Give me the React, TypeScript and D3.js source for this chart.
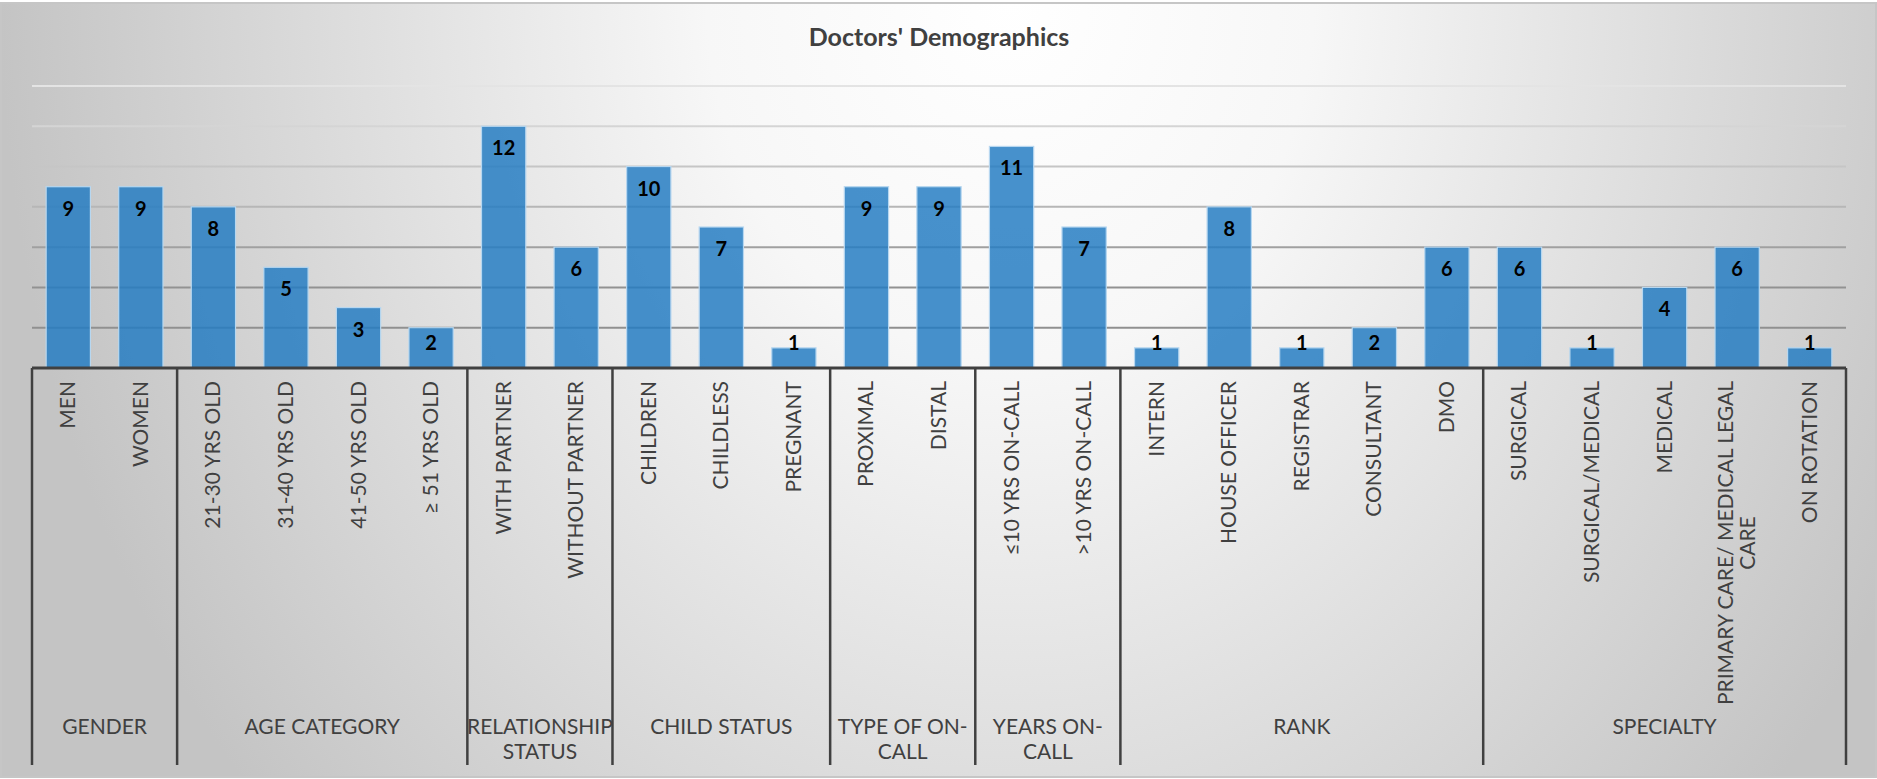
import React, { useRef, useEffect } from "react";
import * as d3 from "d3";

const categories = [
  "MEN", "WOMEN",
  "21-30 YRS OLD", "31-40 YRS OLD", "41-50 YRS OLD", "≥ 51  YRS OLD",
  "WITH PARTNER", "WITHOUT PARTNER",
  "CHILDREN", "CHILDLESS", "PREGNANT",
  "PROXIMAL", "DISTAL",
  "≤10 YRS ON-CALL", ">10 YRS ON-CALL",
  "INTERN", "HOUSE OFFICER", "REGISTRAR", "CONSULTANT", "DMO",
  "SURGICAL", "SURGICAL/MEDICAL", "MEDICAL", "PRIMARY CARE/ MEDICAL LEGAL CARE", "ON ROTATION",
];
const values = [9, 9, 8, 5, 3, 2, 12, 6, 10, 7, 1, 9, 9, 11, 7, 1, 8, 1, 2, 6, 6, 1, 4, 6, 1];
const groupSizes = [2, 4, 2, 3, 2, 2, 5, 5];
const groupLines = [
  ["GENDER"],
  ["AGE CATEGORY"],
  ["RELATIONSHIP", "STATUS"],
  ["CHILD STATUS"],
  ["TYPE OF ON-", "CALL"],
  ["YEARS ON-", "CALL"],
  ["RANK"],
  ["SPECIALTY"],
];
const yTicks = [2, 4, 6, 8, 10, 12, 14];
const title = "Doctors' Demographics";

const W = 1877;
const H = 779;
const FONT = "Lato, 'Open Sans', sans-serif";

function App() {
  const svgRef = useRef<any>();

  useEffect(() => {
    const svg = d3.select(svgRef.current);
    svg.selectAll("*").remove();

    const defs = svg.append("defs");
    const bg = defs
      .append("radialGradient")
      .attr("id", "bg")
      .attr("gradientUnits", "userSpaceOnUse")
      .attr("cx", 0)
      .attr("cy", 0)
      .attr("r", 1)
      .attr("gradientTransform", "translate(1010,0) scale(1010,1200)");
    bg.append("stop").attr("offset", 0).attr("stop-color", "#ffffff");
    bg.append("stop").attr("offset", 0.3).attr("stop-color", "#f7f7f7");
    bg.append("stop").attr("offset", 1).attr("stop-color", "#c4c4c4");

    const x = d3
      .scaleBand()
      .domain(categories)
      .range([32, 1846])
      .paddingInner(0.39)
      .paddingOuter(0.195);
    const y = d3.scaleLinear().domain([0, 14]).range([368, 86]);

    const grid = defs
      .append("linearGradient")
      .attr("id", "grid")
      .attr("gradientUnits", "userSpaceOnUse")
      .attr("x1", 0)
      .attr("x2", 0)
      .attr("y1", y(14))
      .attr("y2", y(0));
    grid.append("stop").attr("offset", 0).attr("stop-color", "#e4e4e4");
    grid.append("stop").attr("offset", 0.45).attr("stop-color", "#b4b4b4");
    grid.append("stop").attr("offset", 0.65).attr("stop-color", "#939393");
    grid.append("stop").attr("offset", 1).attr("stop-color", "#8e8e8e");

    svg
      .append("rect")
      .attr("x", 1)
      .attr("y", 3)
      .attr("width", W - 2)
      .attr("height", H - 5)
      .attr("fill", "url(#bg)")
      .attr("stroke", "#c6c6c6")
      .attr("stroke-width", 2);

    svg
      .append("text")
      .attr("x", 939)
      .attr("y", 46)
      .attr("text-anchor", "middle")
      .attr("font-family", FONT)
      .attr("font-weight", "bold")
      .attr("font-size", 25)
      .attr("fill", "#404040")
      .text(title);

    const [x0, x1] = x.range();

    svg
      .append("g")
      .selectAll("line")
      .data(yTicks)
      .join("line")
      .attr("x1", x0)
      .attr("x2", x1)
      .attr("y1", (d) => y(d))
      .attr("y2", (d) => y(d) + 0.01)
      .attr("stroke", "url(#grid)")
      .attr("stroke-width", 2);

    svg
      .append("g")
      .selectAll("rect")
      .data(values)
      .join("rect")
      .attr("x", (d, i) => x(categories[i])!)
      .attr("y", (d) => y(d))
      .attr("width", x.bandwidth())
      .attr("height", (d) => y(0) - y(d))
      .attr("fill", "rgba(36,124,194,0.84)")
      .attr("stroke", "#b7d7f0")
      .attr("stroke-width", 1.2);

    svg
      .append("g")
      .selectAll("text")
      .data(values)
      .join("text")
      .attr("x", (d, i) => x(categories[i])! + x.bandwidth() / 2)
      .attr("y", (d) => Math.min(y(d) + 29, y(0) - 18))
      .attr("text-anchor", "middle")
      .attr("font-family", FONT)
      .attr("font-weight", "bold")
      .attr("font-size", 20)
      .attr("fill", "#000")
      .text((d) => d);

    // category axis
    const axisColor = "#404040";
    svg
      .append("line")
      .attr("x1", x0)
      .attr("x2", x1)
      .attr("y1", y(0))
      .attr("y2", y(0))
      .attr("stroke", axisColor)
      .attr("stroke-width", 3);

    const step = x.step();
    const bounds = [0];
    groupSizes.forEach((n) => bounds.push(bounds[bounds.length - 1] + n));

    svg
      .append("g")
      .selectAll("line")
      .data(bounds)
      .join("line")
      .attr("x1", (b) => x0 + b * step)
      .attr("x2", (b) => x0 + b * step)
      .attr("y1", y(0))
      .attr("y2", 765)
      .attr("stroke", axisColor)
      .attr("stroke-width", 2.5);

    const labels = svg
      .append("g")
      .attr("font-family", FONT)
      .attr("font-size", 21)
      .attr("fill", "#404040");

    categories.forEach((c, i) => {
      const cx = x(c)! + x.bandwidth() / 2;
      const lines = c === "PRIMARY CARE/ MEDICAL LEGAL CARE" ? ["PRIMARY CARE/ MEDICAL LEGAL", "CARE"] : [c];
      if (lines.length === 1) {
        labels
          .append("text")
          .attr("transform", `translate(${cx + 7},${y(0) + 13}) rotate(-90)`)
          .attr("text-anchor", "end")
          .text(c);
      } else {
        const first = labels
          .append("text")
          .attr("transform", `translate(${cx - 4},${y(0) + 13}) rotate(-90)`)
          .attr("text-anchor", "end")
          .text(lines[0]);
        const len = (first.node() as SVGTextElement).getComputedTextLength();
        labels
          .append("text")
          .attr("transform", `translate(${cx + 18},${y(0) + 13 + len / 2}) rotate(-90)`)
          .attr("text-anchor", "middle")
          .text(lines[1]);
      }
    });

    const groupG = svg
      .append("g")
      .attr("font-family", FONT)
      .attr("font-size", 21)
      .attr("fill", "#404040")
      .attr("text-anchor", "middle");

    groupLines.forEach((lines, g) => {
      const gx = x0 + ((bounds[g] + bounds[g + 1]) / 2) * step;
      lines.forEach((t, k) => {
        groupG
          .append("text")
          .attr("x", gx)
          .attr("y", 734 + k * 25)
          .text(t);
      });
    });
  }, []);

  return (
    <svg
      ref={svgRef}
      width={W}
      height={H}
      style={{ position: "absolute", left: 0, top: 0 }}
    />
  );
}

export default App;
